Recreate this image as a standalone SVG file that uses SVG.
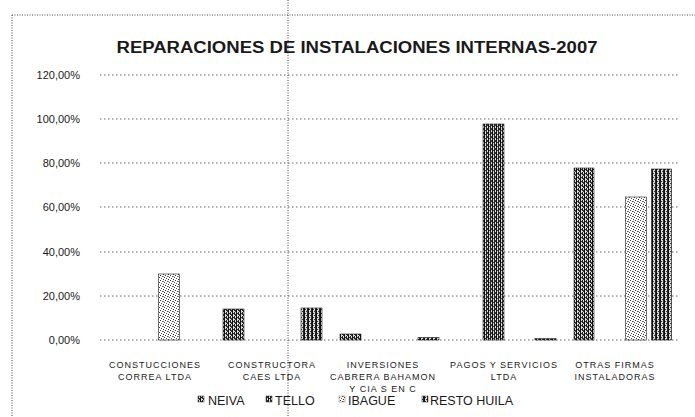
<svg xmlns="http://www.w3.org/2000/svg" width="695" height="417" viewBox="0 0 695 417">
<style>
  text { font-family: "Liberation Sans", Arial, sans-serif; fill: #1a1a1a; }
  .title { font-size: 16px; font-weight: bold; }
  .ylab { font-size: 11px; text-anchor: end; }
  .cat { font-size: 9px; text-anchor: middle; letter-spacing: 1px; }
  .leg { font-size: 12.5px; }
  .grid { stroke: #666; stroke-width: 1; stroke-dasharray: 1.5 2.5; fill: none; }
  .frame { stroke: #444; stroke-width: 1; stroke-dasharray: 1 1.5; fill: none; }
  .bar { stroke: #222; stroke-width: 0.6; }
</style>
<defs>
  <pattern id="pNeiva" width="4" height="4" patternUnits="userSpaceOnUse">
    <rect width="4" height="4" fill="#ddd"/>
    <rect x="0" y="0" width="1" height="4" fill="#111"/>
    <rect x="2" y="0" width="1" height="3" fill="#222"/>
    <rect x="1" y="1" width="1" height="1" fill="#333"/>
    <rect x="3" y="2" width="1" height="2" fill="#333"/>
  </pattern>
  <pattern id="pTello" width="4" height="4" patternUnits="userSpaceOnUse">
    <rect width="4" height="4" fill="#ddd"/>
    <rect x="0" y="0" width="1" height="4" fill="#111"/>
    <rect x="2" y="0" width="1" height="4" fill="#222"/>
    <rect x="1" y="2" width="1" height="1" fill="#333"/>
    <rect x="3" y="0" width="1" height="2" fill="#333"/>
  </pattern>
  <pattern id="pIbague" width="5" height="5" patternUnits="userSpaceOnUse">
    <rect width="5" height="5" fill="#fff"/>
    <rect x="0" y="0" width="1" height="1" fill="#333"/>
    <rect x="2" y="1" width="1" height="1" fill="#555"/>
    <rect x="4" y="2" width="1" height="1" fill="#444"/>
    <rect x="1" y="3" width="1" height="1" fill="#555"/>
    <rect x="3" y="4" width="1" height="1" fill="#333"/>
    <rect x="3" y="1" width="1" height="1" fill="#888"/>
  </pattern>
  <pattern id="pResto" width="4" height="4" patternUnits="userSpaceOnUse">
    <rect width="4" height="4" fill="#ddd"/>
    <rect x="0" y="0" width="1" height="4" fill="#111"/>
    <rect x="3" y="0" width="1" height="4" fill="#222"/>
    <rect x="1" y="1" width="1" height="1" fill="#333"/>
    <rect x="2" y="3" width="1" height="1" fill="#333"/>
  </pattern>
</defs>
<rect width="695" height="417" fill="#fff"/>

<g id="frame">
  <line class="frame" x1="12" y1="15" x2="695" y2="15"/>
  <line class="frame" x1="12" y1="15" x2="12" y2="417"/>
  <line class="frame" x1="288" y1="0" x2="288" y2="417"/>
</g>

<g id="title">
  <text class="title" x="357" y="53" text-anchor="middle" textLength="481" lengthAdjust="spacingAndGlyphs">REPARACIONES DE INSTALACIONES INTERNAS-2007</text>
</g>

<g id="gridlines">
  <line class="grid" x1="100" y1="75" x2="680" y2="75"/>
  <line class="grid" x1="100" y1="119" x2="680" y2="119"/>
  <line class="grid" x1="100" y1="163" x2="680" y2="163"/>
  <line class="grid" x1="100" y1="207" x2="680" y2="207"/>
  <line class="grid" x1="100" y1="252" x2="680" y2="252"/>
  <line class="grid" x1="100" y1="296" x2="680" y2="296"/>
  <line class="grid" x1="100" y1="340" x2="680" y2="340"/>
</g>

<g id="y-axis">
  <text class="ylab" x="80" y="79">120,00%</text>
  <text class="ylab" x="80" y="123">100,00%</text>
  <text class="ylab" x="80" y="167">80,00%</text>
  <text class="ylab" x="80" y="211">60,00%</text>
  <text class="ylab" x="80" y="256">40,00%</text>
  <text class="ylab" x="80" y="300">20,00%</text>
  <text class="ylab" x="80" y="344">0,00%</text>
</g>

<g id="bars">
  <rect class="bar" x="158.5" y="274" width="21" height="66" fill="url(#pIbague)"/>
  <rect class="bar" x="223" y="309" width="21" height="31" fill="url(#pNeiva)"/>
  <rect class="bar" x="301" y="308" width="21" height="32" fill="url(#pResto)"/>
  <rect class="bar" x="340" y="334" width="21" height="6" fill="url(#pNeiva)"/>
  <rect class="bar" x="418" y="337.5" width="21" height="2.5" fill="url(#pResto)"/>
  <rect class="bar" x="483" y="124" width="21" height="216" fill="url(#pTello)"/>
  <rect class="bar" x="535" y="338.5" width="21" height="1.5" fill="url(#pResto)"/>
  <rect class="bar" x="574" y="168" width="20" height="172" fill="url(#pNeiva)"/>
  <rect class="bar" x="625.5" y="197" width="21" height="143" fill="url(#pIbague)"/>
  <rect class="bar" x="651.5" y="169" width="20" height="171" fill="url(#pResto)"/>
</g>

<g id="categories">
  <text class="cat" x="155" y="368">CONSTUCCIONES</text>
  <text class="cat" x="155" y="380">CORREA LTDA</text>
  <text class="cat" x="272" y="368">CONSTRUCTORA</text>
  <text class="cat" x="272" y="380">CAES LTDA</text>
  <text class="cat" x="383" y="368">INVERSIONES</text>
  <text class="cat" x="383" y="380">CABRERA BAHAMON</text>
  <text class="cat" x="383" y="392">Y CIA S EN C</text>
  <text class="cat" x="504" y="368">PAGOS Y SERVICIOS</text>
  <text class="cat" x="504" y="380">LTDA</text>
  <text class="cat" x="615" y="368">OTRAS FIRMAS</text>
  <text class="cat" x="615" y="380">INSTALADORAS</text>
</g>

<g id="legend">
  <g id="leg-neiva">
    <rect x="198" y="396" width="6" height="6" fill="url(#pNeiva)" stroke="#333" stroke-width="0.5"/>
    <text class="leg" x="208" y="405">NEIVA</text>
  </g>
  <g id="leg-tello">
    <rect x="266" y="396" width="6" height="6" fill="url(#pTello)" stroke="#333" stroke-width="0.5"/>
    <text class="leg" x="275" y="405">TELLO</text>
  </g>
  <g id="leg-ibague">
    <rect x="339" y="396" width="6" height="6" fill="url(#pIbague)" stroke="#777" stroke-width="0.5"/>
    <text class="leg" x="348" y="405">IBAGUE</text>
  </g>
  <g id="leg-resto">
    <rect x="422" y="396" width="6" height="6" fill="url(#pResto)" stroke="#333" stroke-width="0.5"/>
    <text class="leg" x="430" y="405">RESTO HUILA</text>
  </g>
</g>
</svg>
